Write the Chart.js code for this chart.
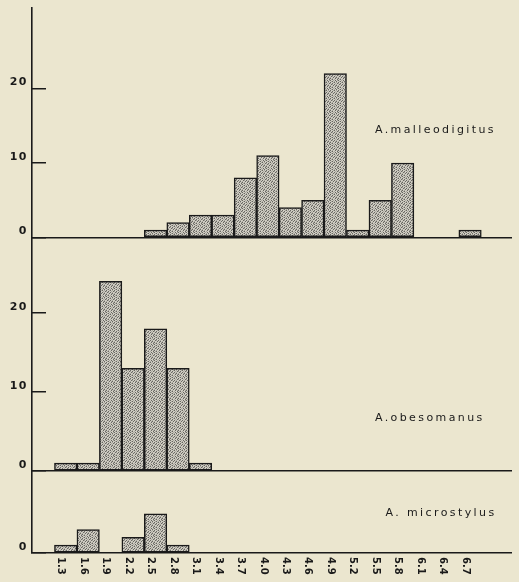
<!DOCTYPE html>
<html>
<head>
<meta charset="utf-8">
<script src="https://cdn.jsdelivr.net/npm/chart.js@4.4.1/dist/chart.umd.min.js"></script>
<style>
  html, body { margin: 0; padding: 0; background: #ebe6cf; }
  canvas { display: block; }
</style>
</head>
<body>
<canvas id="chart" width="519" height="582"></canvas>
<script>
// Size classes: lower bound of each 0.3-wide class
const binStarts = ['1.3','1.6','1.9','2.2','2.5','2.8','3.1','3.4','3.7','4.0',
                   '4.3','4.6','4.9','5.2','5.5','5.8','6.1','6.4','6.7'];
const binWidth = 0.3;

// Number of specimens in each class, per species
const malleodigitus = [0,0,0,0,1,2,3,3,8,11,4,5,22,1,5,10,0,0,1];
const obesomanus    = [1,1,24,13,18,13,1,0,0,0,0,0,0,0,0,0,0,0,0];
const microstylus   = [1,3,0,2,5,1,0,0,0,0,0,0,0,0,0,0,0,0,0];

const speciesNames = ['A.malleodigitus', 'A.obesomanus', 'A. microstylus'];

// Count ticks shown on each panel
const countTicksTall  = [0, 10, 20];
const countTicksSmall = [0];

const ink = '#1a1a1a';
const paper = '#ebe6cf';
const FONT = '"DejaVu Sans", "Liberation Sans", sans-serif';

// Fine halftone stipple used as bar fill
function stipple(ctx) {
  const tile = document.createElement('canvas');
  tile.width = 8; tile.height = 8;
  const g = tile.getContext('2d');
  const tones = { L: '#d0cdc3', M: '#a8a69e', D: '#686762' };
  const rows = [
    'LMDLLMLD',
    'DLLMDLML',
    'MLDLLMDL',
    'LDMLDLLM',
    'MLLDMLDL',
    'DLMLLDLM',
    'LMDLMLLD',
    'LDLMDLML'
  ];
  rows.forEach((row, y) => {
    [...row].forEach((c, x) => { g.fillStyle = tones[c]; g.fillRect(x, y, 1, 1); });
  });
  return ctx.createPattern(tile, 'repeat');
}

const canvas = document.getElementById('chart');
const ctx2d = canvas.getContext('2d');
const fill = stipple(ctx2d);

const centers = binStarts.map(s => parseFloat(s) + binWidth / 2);
const toPoints = counts => counts.map((v, i) => ({ x: centers[i], y: v }));

function countAxis(max, ticks, weight, stackWeight) {
  return {
    type: 'linear',
    position: 'left',
    stack: 'panels',
    stackWeight: stackWeight,
    weight: weight,
    min: 0,
    max: max,
    afterBuildTicks: s => { s.ticks = ticks.map(v => ({ value: v })); },
    afterFit: s => { s.width = 32; s.paddingTop = 0; s.paddingBottom = 0; },
    border: { display: true, color: ink, width: 1.6 },
    grid: {
      drawOnChartArea: true,
      drawTicks: true,
      tickLength: -14,
      lineWidth: 1.5,
      color: c => (c.tick && c.tick.value === 0) ? ink : 'rgba(0,0,0,0)',
      tickColor: ink
    },
    ticks: {
      padding: 18,
      labelOffset: -6,
      color: ink,
      font: { family: FONT, size: 11, weight: 'bold' }
    }
  };
}

const barStyle = {
  grouped: false,
  barPercentage: 1,
  categoryPercentage: 1,
  backgroundColor: fill,
  borderColor: ink,
  borderWidth: 1.5,
  borderSkipped: false
};

// Species names placed in data coordinates of their panel
const nameAnchors = [
  { axis: 'yTop', x: 5.58, y: 14.4 },
  { axis: 'yMid', x: 5.58, y: 6.7 },
  { axis: 'yLow', x: 5.72, y: 5.1 }
];

const decorations = {
  id: 'decorations',
  beforeDraw(chart) {
    const ctx = chart.ctx;
    ctx.save();
    ctx.fillStyle = paper;
    ctx.fillRect(0, 0, chart.width, chart.height);
    ctx.restore();
    ctx.letterSpacing = '1.5px';
  },
  afterDraw(chart) {
    const ctx = chart.ctx;
    ctx.letterSpacing = '0px';
    const xs = chart.scales.x;

    // class labels, turned to read downward
    ctx.save();
    ctx.fillStyle = ink;
    ctx.font = 'bold 10px ' + FONT;
    ctx.letterSpacing = '0px';
    ctx.textAlign = 'left';
    ctx.textBaseline = 'middle';
    binStarts.forEach(lab => {
      const px = xs.getPixelForValue(parseFloat(lab)) + 6.5;
      ctx.save();
      ctx.translate(px, xs.top + 4);
      ctx.rotate(Math.PI / 2);
      ctx.fillText(lab, 0, 0);
      ctx.restore();
    });
    ctx.restore();

    // species names
    ctx.save();
    ctx.fillStyle = ink;
    ctx.font = '11px ' + FONT;
    ctx.letterSpacing = '2.4px';
    ctx.textAlign = 'left';
    ctx.textBaseline = 'middle';
    nameAnchors.forEach((a, i) => {
      const ys = chart.scales[a.axis];
      ctx.fillText(speciesNames[i], xs.getPixelForValue(a.x), ys.getPixelForValue(a.y));
    });
    ctx.restore();
  }
};

new Chart(ctx2d, {
  type: 'bar',
  data: {
    datasets: [
      Object.assign({ label: speciesNames[0], data: toPoints(malleodigitus), yAxisID: 'yTop' }, barStyle),
      Object.assign({ label: speciesNames[1], data: toPoints(obesomanus),    yAxisID: 'yMid' }, barStyle),
      Object.assign({ label: speciesNames[2], data: toPoints(microstylus),   yAxisID: 'yLow' }, barStyle)
    ]
  },
  options: {
    responsive: false,
    devicePixelRatio: 1,
    animation: false,
    events: [],
    layout: { padding: { top: 8, left: 0, right: 7, bottom: 0 } },
    plugins: { legend: { display: false }, tooltip: { enabled: false } },
    scales: {
      x: {
        type: 'linear',
        offset: false,
        min: 1.0,
        max: 7.41,
        afterBuildTicks: s => { s.ticks = binStarts.map(v => ({ value: parseFloat(v) })); },
        afterFit: s => { s.height = 29; s.paddingLeft = 0; s.paddingRight = 0; },
        grid: { display: false },
        border: { display: false },
        ticks: { display: false }
      },
      yTop: countAxis(30.8, countTicksTall, 3, 229.5),
      yMid: countAxis(29.56, countTicksTall, 2, 233.5),
      yLow: countAxis(10.5, countTicksSmall, 1, 82)
    }
  },
  plugins: [decorations]
});
</script>
</body>
</html>
